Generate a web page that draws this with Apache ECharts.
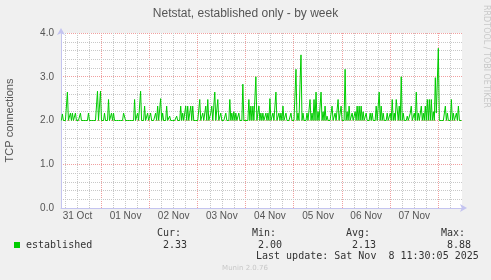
<!DOCTYPE html>
<html><head><meta charset="utf-8">
<script src="https://cdn.jsdelivr.net/npm/echarts@6/dist/echarts.min.js"></script>
<style>html,body{margin:0;padding:0;background:#f0f0f0}#c{width:491px;height:280px}</style>
</head><body><div id="c"></div>
<script>
// Time in hours relative to 01 Nov 2025 00:00
const startHour = -20;      // first sample: 31 Oct 04:00
const stepHours = 0.5;      // 30-minute samples
const axisMinHour = -20.2;
const axisMaxHour = 179.8;
const established = [
  2,2.15,2,2,2,2,2.65,2,2,2.17,2,2.17,2,2,2.17,2,2,2,2,2.17,
  2,2,2,2,2,2,2,2.17,2,2,2,2,2,2,2,2,2.67,2,2,2.67,
  2,2,2,2.17,2,2,2,2.48,2,2,2.17,2,2.17,2,2,2,2,2,2,2,
  2,2,2.17,2.17,2,2,2,2,2,2,2,2,2,2.48,2,2,2.17,2,2,2.67,
  2,2,2,2.33,2,2,2.17,2,2,2.17,2,2,2,2,2.17,2,2.33,2,2,2.5,
  2,2.17,2,2,2,2.33,2,2,2.1,2,2,2,2,2,2,2.1,2,2,2,2.33,
  2,2.17,2,2,2.33,2,2.33,2,2,2.33,2,2.33,2,2,2,2,2,2,2.48,2,
  2,2.17,2,2,2.33,2,2.48,2,2,2.17,2.33,2,2,2.65,2,2,2.48,2,2,2.17,
  2,2,2,2,2.17,2,2,2,2.48,2,2.17,2,2.2,2,2.17,2,2,2.17,2,2,
  2,2.83,2,2,2,2,2,2.48,2,2.33,2,2.33,2,2,3.0,2,2,2.33,2,2.17,
  2,2.17,2,2,2.17,2,2.17,2,2.5,2,2,2.17,2,2,2.65,2,2,2.17,2,2.17,
  2,2.33,2,2,2.17,2,2,2,2,2.17,2,2,2,2,3.17,2,2.17,2,2.83,3.5,
  2,2.17,2,2,2,2.17,2,2,2.48,2,2.17,2,2.48,2,2.65,2,2.2,2,2,2.65,
  2,2.2,2,2.33,2,2.1,2,2,2,2,2.33,2,2,2.17,2,2,2.48,2,2,2.33,
  2,2,2,3.17,2,2.2,2,2.33,2,2,2.17,2,2,2.2,2,2.33,2,2.33,2,2.33,
  2,2.2,2,2,2.17,2,2,2,2.17,2,2.17,2,2,2,2.33,2,2,2.65,2,2.33,
  2,2.17,2,2,2,2.17,2,2,2.17,2,2.48,2,2.17,2,2.48,2.5,2,2.33,2,3.0,
  2,2.17,2,2,2,2.1,2,2,2.17,2.33,2,2,2.17,2,2.65,2,2.17,2,2,2.33,
  2,2.17,2,2.33,2,2.48,2,2.48,2,2.48,2,2.2,2,2.98,2.17,2.17,3.65,2,2,2,
  2,2,2,2.33,2,2.17,2,2,2,2.48,2,2.17,2,2,2.17,2,2.33,2,2,2
];
const dayLabels = ['31 Oct','01 Nov','02 Nov','03 Nov','04 Nov','05 Nov','06 Nov','07 Nov'];
const dayLabelHours = [-12,12,36,60,84,108,132,156];
const yTickValues = [0, 1, 2, 3, 4];
const statHeaders = ['Cur:','Min:','Avg:','Max:'];
const statValues = ['2.33','2.00','2.13','8.88'];
const seriesName = 'established';
const titleText = 'Netstat, established only - by week';
const yAxisName = 'TCP connections';
const lastUpdate = 'Last update: Sat Nov  8 11:30:05 2025';
const sideText = 'RRDTOOL / TOBI OETIKER';
const footText = 'Munin 2.0.76';

const lineData = established.map((v, i) => [startHour + i * stepHours, v]);

const GRID = '#c8c8c8', MGRID = '#f0a0a0', AXIS = '#c4c4f0', TXT = '#555555';
// minor grid every 6 hours (not at midnight), major grid at midnight
const minorHours = [], midnightHours = [];
for (let h = -18; h <= 174; h += 6) { if (h % 24 === 0) midnightHours.push(h); else minorHours.push(h); }
// minor horizontal grid every 0.2 (not on whole units)
const minorY = [];
for (let k = 1; k < 20; k++) if (k % 5 !== 0) minorY.push(Math.round(k * 2) / 10);

const mono = '"DejaVu Sans Mono", monospace';
const statX = [157, 252, 346, 441];
const graphics = [
  {type:'rect', shape:{x:14, y:242, width:6, height:6}, style:{fill:'#00cc00'}},
  {type:'text', x:26, y:245, style:{text:seriesName, font:'10px ' + mono, fill:'#333', verticalAlign:'middle'}},
  {type:'text', x:256, y:256.5, style:{text:lastUpdate, font:'10px ' + mono, fill:'#333', verticalAlign:'middle'}},
  {type:'text', x:245, y:268, style:{text:footText, font:'7px "DejaVu Sans"', fill:'#c8c8c8', align:'center', verticalAlign:'middle'}},
  {type:'text', x:486, y:5, rotation:-Math.PI/2, style:{text:sideText, font:'8px "DejaVu Sans"', fill:'#c8c8c8', align:'left', verticalAlign:'middle'}}
];
statHeaders.forEach((t, k) => {
  graphics.push({type:'text', x:statX[k], y:233, style:{text:t, font:'10px ' + mono, fill:'#333', verticalAlign:'middle'}});
  graphics.push({type:'text', x:statX[k] + 6, y:245, style:{text:statValues[k], font:'10px ' + mono, fill:'#333', verticalAlign:'middle'}});
});

const FONT = '"Liberation Sans", Arial, sans-serif';
const dotted = (c) => ({color: c, type: [1, 1], width: 1});
const chart = echarts.init(document.getElementById('c'), null, {renderer:'canvas'});
chart.setOption({
  animation: false,
  backgroundColor: '#f0f0f0',
  title: {text: titleText, left: 'center', top: 3,
    textStyle: {fontFamily: FONT, fontSize: 12, fontWeight: 'normal', color: TXT}},
  grid: {left: 61, right: 29, top: 33, bottom: 72, show: true, backgroundColor: '#ffffff', borderWidth: 0,
    containLabel: false, outerBoundsMode: 'none'},
  xAxis: {
    type: 'value', min: axisMinHour, max: axisMaxHour, position: 'bottom', z: 4,
    axisLine: {show: true, onZero: false, lineStyle: {color: AXIS}, symbol: ['none','arrow'], symbolSize: [6, 7], symbolOffset: [0, 5]},
    axisTick: {show: false, customValues: minorHours},
    splitLine: {show: true, showMinLine: true, showMaxLine: true, lineStyle: dotted(GRID)},
    axisLabel: {customValues: dayLabelHours, margin: 3, color: TXT, fontSize: 10, fontFamily: FONT,
      formatter: v => { const k = dayLabelHours.indexOf(v); return k >= 0 ? dayLabels[k] : ''; }}
  },
  yAxis: {
    type: 'value', min: 0, max: 4, position: 'left', z: 4,
    name: yAxisName, nameLocation: 'middle', nameGap: 46, nameRotate: 90,
    nameTextStyle: {color: TXT, fontSize: 11, fontFamily: FONT},
    axisLine: {show: true, onZero: false, lineStyle: {color: AXIS}, symbol: ['none','arrow'], symbolSize: [6, 7], symbolOffset: [0, 5]},
    axisTick: {show: false, customValues: minorY},
    axisLabel: {customValues: yTickValues, margin: 7, color: TXT, fontSize: 10, fontFamily: FONT, formatter: v => v.toFixed(1)},
    splitLine: {show: true, showMinLine: true, showMaxLine: true, lineStyle: dotted(GRID)}
  },
  series: [{
    type: 'line', name: seriesName, data: lineData, showSymbol: false, z: 5,
    lineStyle: {color: '#00cc00', width: 1}
  }]
});

// major grid lines, positioned through the axes' own scales
const crisp = p => Math.floor(p) + 0.5;
const toPx = (x, y) => chart.convertToPixel({xAxisIndex: 0, yAxisIndex: 0}, [x, y]);
const pTop = toPx(axisMinHour, 4), pBot = toPx(axisMaxHour, 0);
midnightHours.forEach(h => {
  const x = crisp(toPx(h, 0)[0]);
  graphics.push({type:'line', z: 3, silent: true,
    shape:{x1:x, y1:pTop[1], x2:x, y2:pBot[1]}, style:{stroke:MGRID, lineWidth:1, lineDash:[1, 1]}});
});
yTickValues.forEach(v => {
  const y = crisp(toPx(0, v)[1]);
  graphics.push({type:'line', z: 3, silent: true,
    shape:{x1:pTop[0], y1:y, x2:pBot[0], y2:y}, style:{stroke:MGRID, lineWidth:1, lineDash:[1, 1]}});
});
chart.setOption({graphic: graphics});
</script></body></html>
